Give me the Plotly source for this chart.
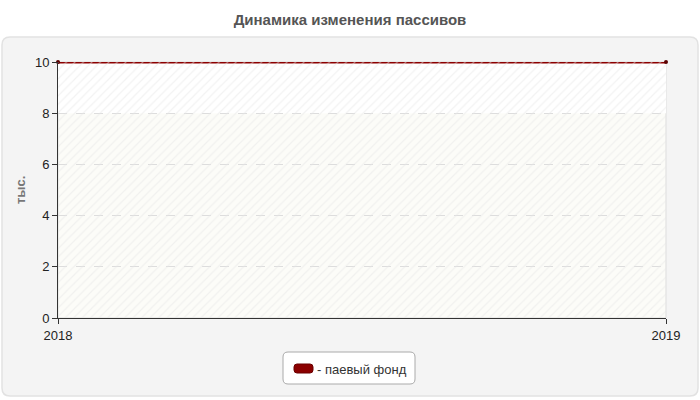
import plotly.graph_objects as go

# data
years = [2018, 2019]
fund_values = [10, 10]
series_name = "паевый фонд"
y_ticks = [0, 2, 4, 6, 8, 10]

title_text = "Динамика изменения пассивов"
y_title = "тыс."

W, H = 700, 400
L, R, T, B = 58, 34, 62, 82
PW, PH = W - L - R, H - T - B


def px_x(px):
    return (px - L) / PW


def px_y(py):
    return (H - B - py) / PH


def rounded_rect(x0, y0, x1, y1, r):
    # pixel coords -> paper path with rounded corners
    ax0, ax1 = px_x(x0), px_x(x1)
    ay0, ay1 = px_y(y0), px_y(y1)
    rx, ry = r / PW, r / PH
    return (f"M{ax0 + rx},{ay0} L{ax1 - rx},{ay0} Q{ax1},{ay0} {ax1},{ay0 - ry} "
            f"L{ax1},{ay1 + ry} Q{ax1},{ay1} {ax1 - rx},{ay1} "
            f"L{ax0 + rx},{ay1} Q{ax0},{ay1} {ax0},{ay1 + ry} "
            f"L{ax0},{ay0 - ry} Q{ax0},{ay0} {ax0 + rx},{ay0} Z")


fig = go.Figure()

# faint diagonal hatching of the plot area (background only)
fig.add_trace(go.Bar(
    x=[0.5], y=[max(y_ticks)], width=[1], xaxis="x2", hoverinfo="skip",
    marker=dict(color="rgba(0,0,0,0)", line=dict(width=0),
                pattern=dict(shape="/", fgcolor="#e6e6e6", bgcolor="rgba(0,0,0,0)",
                             size=6, solidity=0.2)),
    showlegend=False,
))

fig.add_trace(go.Scatter(
    x=years, y=fund_values, mode="lines+markers", name=series_name,
    line=dict(color="#8b0000", width=3),
    marker=dict(symbol="circle", size=4, color="#5a0000"),
    cliponaxis=False, showlegend=False,
))

shapes = [
    # outer panel
    dict(type="path", xref="paper", yref="paper", path=rounded_rect(2, 37, 698, 396, 8),
         fillcolor="#f4f4f4", line=dict(color="#e2e2e2", width=1.5), layer="below"),
    # plot background
    dict(type="rect", xref="paper", yref="paper", x0=0, x1=1, y0=0, y1=1,
         fillcolor="#fcfcf8", line=dict(color="#dddddd", width=1), layer="below"),
    dict(type="rect", xref="paper", yref="y", x0=0, x1=1, y0=8, y1=10,
         fillcolor="#ffffff", line=dict(width=0), layer="below"),
    # legend box
    dict(type="path", xref="paper", yref="paper", path=rounded_rect(283, 352, 415, 384, 5),
         fillcolor="#ffffff", line=dict(color="#aaaaaa", width=1)),
    # legend swatch
    dict(type="path", xref="paper", yref="paper", path=rounded_rect(294, 364, 313, 373, 3),
         fillcolor="#8b0000", line=dict(color="#6a0000", width=1)),
]

fig.update_layout(
    width=W, height=H,
    margin=dict(l=L, r=R, t=T, b=B),
    paper_bgcolor="#ffffff",
    plot_bgcolor="rgba(0,0,0,0)",
    font=dict(family="Liberation Sans, Arial, sans-serif", size=13, color="#222222"),
    title=dict(text=f"<b>{title_text}</b>", x=0.5, xanchor="center", y=1 - 20 / H, yanchor="middle",
               font=dict(size=15, color="#555555")),
    shapes=shapes,
    annotations=[
        dict(text="- " + series_name, xref="paper", yref="paper", x=px_x(315), y=px_y(369),
             xanchor="left", yanchor="middle", showarrow=False,
             font=dict(size=13, color="#333333")),
        dict(text=f"<b>{y_title}</b>", xref="paper", yref="paper", x=px_x(20), y=px_y(190),
             xanchor="center", yanchor="middle", showarrow=False, textangle=-90,
             font=dict(size=13, color="#777777")),
    ],
    showlegend=False,
    bargap=0,
    xaxis=dict(
        range=[years[0], years[-1]], tickvals=years, ticktext=[str(v) for v in years],
        showgrid=False, zeroline=False, showline=True, linecolor="#333333", linewidth=1,
        ticks="outside", ticklen=5, tickcolor="#333333", tickfont=dict(size=13, color="#222222"),
        automargin=False,
    ),
    xaxis2=dict(overlaying="x", range=[0, 1], visible=False),
    yaxis=dict(
        range=[0, 10], tickvals=y_ticks,
        showgrid=True, gridcolor="#dddddd", griddash="dash", gridwidth=1,
        zeroline=False, showline=True, linecolor="#333333", linewidth=1,
        ticks="outside", ticklen=5, tickcolor="#333333", tickfont=dict(size=13, color="#222222"),
        automargin=False,
    ),
)

fig.write_html("out.html", config={"displayModeBar": False},
               post_script="document.body.style.margin='0';")
